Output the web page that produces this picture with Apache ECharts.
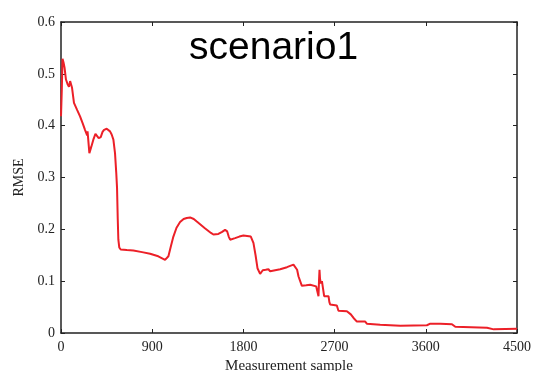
<!DOCTYPE html>
<html><head><meta charset="utf-8">
<script src="https://cdn.jsdelivr.net/npm/echarts@6/dist/echarts.min.js"></script>
<style>html,body{margin:0;padding:0;background:#fff}#c{width:534px;height:371px}</style>
</head><body><div id="c"></div>
<script>
const chartTitle = "scenario1";
const xLabel = "Measurement sample";
const yLabel = "RMSE";
const xTicks = [0, 900, 1800, 2700, 3600, 4500];
const yTicks = [0, 0.1, 0.2, 0.3, 0.4, 0.5, 0.6];
const sampleX = [0,8,15,25,35,49,65,79,90,96,102,109,128,160,188,215,237,250,258,262,268,280,300,319,340,352,372,392,410,425,451,470,484,500,517,533,545,553,560,566,575,589,650,714,800,879,960,1027,1045,1060,1085,1109,1140,1175,1210,1241,1274,1310,1340,1420,1480,1504,1553,1590,1619,1640,1655,1669,1718,1760,1800,1873,1899,1920,1939,1965,1991,2020,2047,2055,2064,2163,2230,2294,2311,2330,2344,2377,2420,2459,2518,2541,2546,2551,2556,2564,2575,2584,2597,2640,2648,2656,2722,2738,2821,2860,2887,2920,3002,3018,3150,3348,3611,3644,3743,3858,3891,4204,4270,4500];
const rmseY = [0.418,0.47,0.529,0.522,0.512,0.489,0.48,0.475,0.486,0.487,0.478,0.473,0.444,0.43,0.418,0.404,0.392,0.39,0.381,0.389,0.375,0.347,0.36,0.373,0.384,0.386,0.376,0.378,0.388,0.392,0.394,0.392,0.389,0.383,0.373,0.347,0.31,0.28,0.22,0.18,0.165,0.161,0.16,0.159,0.156,0.153,0.148,0.141,0.143,0.148,0.168,0.186,0.203,0.214,0.22,0.222,0.223,0.22,0.215,0.202,0.193,0.19,0.191,0.195,0.199,0.196,0.186,0.18,0.183,0.186,0.188,0.186,0.174,0.15,0.125,0.114,0.121,0.122,0.123,0.125,0.119,0.123,0.127,0.132,0.132,0.122,0.109,0.091,0.092,0.093,0.09,0.071,0.1,0.122,0.105,0.096,0.1,0.1,0.071,0.071,0.06,0.055,0.053,0.043,0.042,0.036,0.029,0.022,0.022,0.018,0.016,0.014,0.015,0.018,0.018,0.017,0.012,0.01,0.007,0.008];

const seriesData = sampleX.map((x, i) => [x, rmseY[i]]);
const serif = '"Liberation Serif", "DejaVu Serif", serif';
const axisColor = '#222';
const lineStyle = { color: axisColor, width: 1.5 };
const axisLine = { show: true, onZero: false, lineStyle };
const tick = { show: true, inside: true, length: 4, lineStyle: { color: axisColor, width: 1 } };
const chart = echarts.init(document.getElementById('c'));
chart.setOption({
  animation: false,
  title: {
    text: chartTitle, left: 184, top: 24,
    textStyle: { fontFamily: '"Liberation Sans", Arial, sans-serif', fontSize: 39, fontWeight: 'normal', color: '#000' }
  },
  grid: { left: 61, right: 17, top: 22, bottom: 38, containLabel: false, outerBoundsMode: 'none' },
  xAxis: [
    { type: 'value', min: xTicks[0], max: xTicks[xTicks.length-1], interval: 900,
      name: xLabel, nameLocation: 'middle', nameGap: 24,
      nameTextStyle: { fontFamily: serif, fontSize: 15, color: axisColor },
      axisLine, axisTick: tick, splitLine: { show: false },
      axisLabel: { fontFamily: serif, fontSize: 14, color: axisColor, margin: 7, formatter: v => String(v) } },
    { type: 'value', position: 'top', min: xTicks[0], max: xTicks[xTicks.length-1], interval: 900,
      axisLine, axisTick: tick, splitLine: { show: false },
      axisLabel: { show: false } }
  ],
  yAxis: [
    { type: 'value', min: yTicks[0], max: yTicks[yTicks.length-1], interval: 0.1,
      name: yLabel, nameLocation: 'middle', nameGap: 28,
      nameTextStyle: { fontFamily: serif, fontSize: 14, color: axisColor },
      axisLine, axisTick: tick, splitLine: { show: false },
      axisLabel: { fontFamily: serif, fontSize: 14, color: axisColor, margin: 6,
        formatter: v => (v === 0 ? '0' : v.toFixed(1)) } },
    { type: 'value', position: 'right', min: yTicks[0], max: yTicks[yTicks.length-1], interval: 0.1,
      axisLine, axisTick: tick, splitLine: { show: false },
      axisLabel: { show: false } }
  ],
  series: [{
    type: 'line', data: seriesData, showSymbol: false, symbol: 'none',
    lineStyle: { color: '#ec2028', width: 2 }, smooth: false
  }]
});
</script></body></html>
